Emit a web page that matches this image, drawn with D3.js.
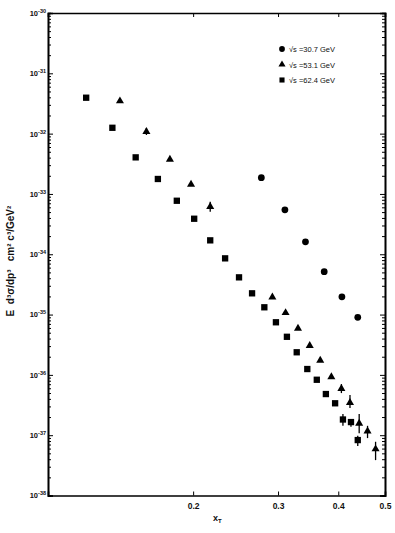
<!DOCTYPE html>
<html>
<head>
<meta charset="utf-8">
<script src="https://cdn.jsdelivr.net/npm/d3@7/dist/d3.min.js"></script>
<style>
body { margin:0; background:#fff; }
svg { display:block; font-family: "Liberation Sans", Arial, sans-serif; }
</style>
</head>
<body>
<div id="chart"></div>
<script>
// values (x_T, E d3sigma/dp3 in cm2 c3/GeV2)
xt307 = [0.277, 0.310, 0.342, 0.374, 0.407, 0.439]
sig307 = [1.86e-33, 5.45e-34, 1.61e-34, 5.13e-35, 1.97e-35, 8.99e-36]

xt531 = [0.141, 0.160, 0.179, 0.198, 0.217, 0.292, 0.311, 0.330, 0.349, 0.367, 0.387, 0.406, 0.423, 0.442, 0.460, 0.478]
sig531 = [3.47e-32, 1.08e-32, 3.75e-33, 1.44e-33, 6.14e-34, 1.95e-35, 1.07e-35, 5.90e-36, 3.06e-36, 1.73e-36, 9.29e-37, 5.93e-37, 3.47e-37, 1.57e-37, 1.17e-37, 5.89e-38]
errLo531 = [null, 9.5e-33, null, null, 5.07e-34, null, null, null, null, null, null, 4.99e-37, 2.81e-37, 1.08e-37, 8.95e-38, 3.86e-38]
errHi531 = [null, 1.24e-32, null, null, 7.43e-34, null, null, null, null, null, null, 7.04e-37, 4.62e-37, 2.24e-37, 1.43e-37, 7.78e-38]

xt624 = [0.120, 0.136, 0.152, 0.169, 0.185, 0.201, 0.217, 0.233, 0.249, 0.265, 0.281, 0.297, 0.313, 0.328, 0.345, 0.361, 0.377, 0.394, 0.409, 0.425, 0.439]
sig624 = [3.94e-32, 1.25e-32, 4.04e-33, 1.77e-33, 7.71e-34, 3.88e-34, 1.70e-34, 8.55e-35, 4.14e-35, 2.25e-35, 1.32e-35, 7.45e-36, 4.28e-36, 2.37e-36, 1.25e-36, 8.30e-37, 4.81e-37, 3.38e-37, 1.82e-37, 1.65e-37, 8.3e-38]
errLo624 = [null, null, null, null, null, null, null, null, null, null, null, null, null, null, null, null, null, null, 1.43e-37, 1.38e-37, 6.59e-38]
errHi624 = [null, null, null, null, null, null, null, null, null, null, null, null, null, null, null, null, null, null, 2.24e-37, 1.85e-37, 9.77e-38]

legendLabels = ['\u221As =30.7 GeV', '\u221As =53.1 GeV', '\u221As =62.4 GeV']
xTicks = [0.2, 0.3, 0.4, 0.5]
yDecades = [-38, -37, -36, -35, -34, -33, -32, -31, -30]

width = 395
height = 533
margin = {top: 13, right: 10, bottom: 37.5, left: 48}
w = width - margin.left - margin.right
h = height - margin.top - margin.bottom

svg = d3.select('#chart')
  .append('svg')
  .attr('width', width)
  .attr('height', height)

svg.append('rect').attr('width', width).attr('height', height).attr('fill', '#fff')

g = svg.append('g')
  .attr('transform', `translate(${margin.left},${margin.top})`)

xScale = d3.scaleLog().domain([0.1, 0.5]).range([0, w])
yScale = d3.scaleLog().domain([1e-38, 1e-30]).range([h, 0])

majorY = yDecades.map(d => Math.pow(10, d))
minorY = []
yDecades.slice(0, -1).forEach(d => {
  for (let m = 2; m <= 9; m++) minorY.push(m * Math.pow(10, d))
})

// axes, ticks pointing inward
g.append('g').attr('class', 'ax')
  .call(d3.axisLeft(yScale).tickValues(minorY).tickSize(-3).tickFormat(''))
g.append('g').attr('class', 'ax')
  .call(d3.axisRight(yScale).tickValues(minorY).tickSize(-3).tickFormat(''))
  .attr('transform', `translate(${w},0)`)

yLeft = g.append('g').attr('class', 'ax')
  .call(d3.axisLeft(yScale).tickValues(majorY).tickSize(-5).tickPadding(3).tickFormat(''))
g.append('g').attr('class', 'ax')
  .attr('transform', `translate(${w},0)`)
  .call(d3.axisRight(yScale).tickValues(majorY).tickSize(-5).tickFormat(''))

xBottom = g.append('g').attr('class', 'ax')
  .attr('transform', `translate(0,${h})`)
  .call(d3.axisBottom(xScale).tickValues(xTicks).tickSize(-4).tickPadding(7).tickFormat(d => d.toFixed(1)))
g.append('g').attr('class', 'ax')
  .call(d3.axisTop(xScale).tickValues(xTicks.slice(0, 3)).tickSize(-4).tickFormat(''))

g.selectAll('.ax path.domain').attr('stroke', '#000').attr('stroke-width', 1.6)
g.selectAll('.ax line').attr('stroke', '#000').attr('stroke-width', 1)
xBottom.selectAll('text').attr('font-size', 8.5).attr('font-weight', 'bold').attr('fill', '#111')

// power-of-ten labels
yLeft.selectAll('.tick').each(function(d) {
  t = d3.select(this).select('text')
  t.attr('font-size', 7.5).attr('font-weight', 'bold').attr('fill', '#111').attr('x', -2)
  t.append('tspan').text('10')
  t.append('tspan').attr('dy', -3).attr('font-size', 5.5).text(Math.round(Math.log10(d)))
})

// error bars
function errBars(xs, lo, hi) {
  g.append('g').selectAll('line')
    .data(xs.map((x, i) => ({x: x, lo: lo[i], hi: hi[i]})).filter(d => d.lo != null))
    .join('line')
    .attr('x1', d => xScale(d.x)).attr('x2', d => xScale(d.x))
    .attr('y1', d => yScale(d.lo)).attr('y2', d => yScale(d.hi))
    .attr('stroke', '#000').attr('stroke-width', 1.3)
}
errBars(xt531, errLo531, errHi531)
errBars(xt624, errLo624, errHi624)

function points(xs, ys, type, size) {
  g.append('g').selectAll('path')
    .data(xs.map((x, i) => [x, ys[i]]))
    .join('path')
    .attr('transform', d => `translate(${xScale(d[0])},${yScale(d[1])})`)
    .attr('d', d3.symbol().type(type).size(size))
    .attr('fill', '#000')
}
points(xt307, sig307, d3.symbolCircle, 36)
points(xt531, sig531, d3.symbolTriangle, 28)
points(xt624, sig624, d3.symbolSquare, 40)

// legend
legendTypes = [d3.symbolCircle, d3.symbolTriangle, d3.symbolSquare]
legendSizes = [26, 22, 26]
leg = svg.append('g').attr('transform', 'translate(282,49)')
legendLabels.forEach((lab, i) => {
  row = leg.append('g').attr('transform', `translate(0,${i * 15.5})`)
  row.append('path').attr('d', d3.symbol().type(legendTypes[i]).size(legendSizes[i])).attr('fill', '#000')
  row.append('text').attr('x', 7).attr('y', 3).attr('font-size', 7.5).attr('fill', '#111').text(lab)
})

// axis titles
svg.append('text')
  .attr('transform', 'translate(14,261) rotate(-90)')
  .attr('text-anchor', 'middle')
  .attr('font-size', 10)
  .attr('font-weight', 'bold')
  .attr('fill', '#111')
  .style('white-space', 'pre')
  .text('E  d\u00B3\u03C3/dp\u00B3   cm\u00B2 c\u00B3/GeV\u00B2')

xl = svg.append('text').attr('x', 213).attr('y', 521).attr('font-size', 9).attr('font-weight', 'bold').attr('fill', '#111')
xl.append('tspan').text('x')
xl.append('tspan').attr('dy', 2).attr('font-size', 6).text('T')
</script>
</body>
</html>
